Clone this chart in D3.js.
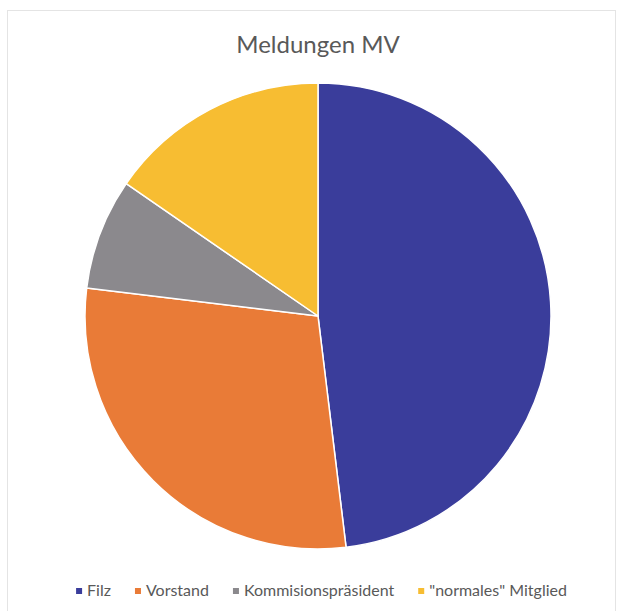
<!DOCTYPE html>
<html>
<head>
<meta charset="utf-8">
<script src="https://cdn.jsdelivr.net/npm/d3@7"></script>
<style>
  html, body { margin: 0; padding: 0; background: #fff; }
  svg { display: block; }
  text { font-family: Lato, "Open Sans", sans-serif; fill: #595959; }
</style>
</head>
<body>
<svg id="chart" width="624" height="611"></svg>
<script>
// Reports at the members' meeting, by who filed them
const categories = ["Filz", "Vorstand", "Kommisionspräsident", "\"normales\" Mitglied"];
const values = [25, 15, 4, 8];
const colors = ["#3a3d9b", "#e97b37", "#8b898d", "#f7bd32"];
const title = "Meldungen MV";

const svg = d3.select("#chart");

// chart frame
svg.append("rect")
  .attr("x", 7.5).attr("y", 10.5)
  .attr("width", 608).attr("height", 610)
  .attr("fill", "#fff")
  .attr("stroke", "#e4e4e4")
  .attr("stroke-width", 1);

svg.append("text")
  .attr("x", 318).attr("y", 53)
  .attr("text-anchor", "middle")
  .attr("font-size", 24)
  .text(title);

const cx = 318, cy = 316, r = 233;
const color = d3.scaleOrdinal().domain(categories).range(colors);
const pie = d3.pie().sort(null).value(d => d.value);
const arc = d3.arc().innerRadius(0).outerRadius(r);
const data = categories.map((c, i) => ({ name: c, value: values[i] }));

svg.append("g")
  .attr("transform", `translate(${cx},${cy})`)
  .selectAll("path")
  .data(pie(data))
  .join("path")
  .attr("d", arc)
  .attr("fill", d => color(d.data.name))
  .attr("stroke", "#fff")
  .attr("stroke-width", 1.5)
  .attr("stroke-linejoin", "round");

// legend, laid out left to right and centred under the pie
const legend = svg.append("g");
const items = legend.selectAll("g")
  .data(categories)
  .join("g");
items.append("rect")
  .attr("width", 6).attr("height", 6)
  .attr("y", -8)
  .attr("fill", d => color(d));
items.append("text")
  .attr("x", 11)
  .attr("y", 0)
  .attr("font-size", 16)
  .text(d => d);

let x = 0;
const gap = 24;
items.each(function () {
  const w = d3.select(this).select("text").node().getComputedTextLength();
  d3.select(this).attr("transform", `translate(${x},0)`);
  x += 11 + w + gap;
});
const total = x - gap;
legend.attr("transform", `translate(${321.5 - total / 2},596)`);
</script>
</body>
</html>
